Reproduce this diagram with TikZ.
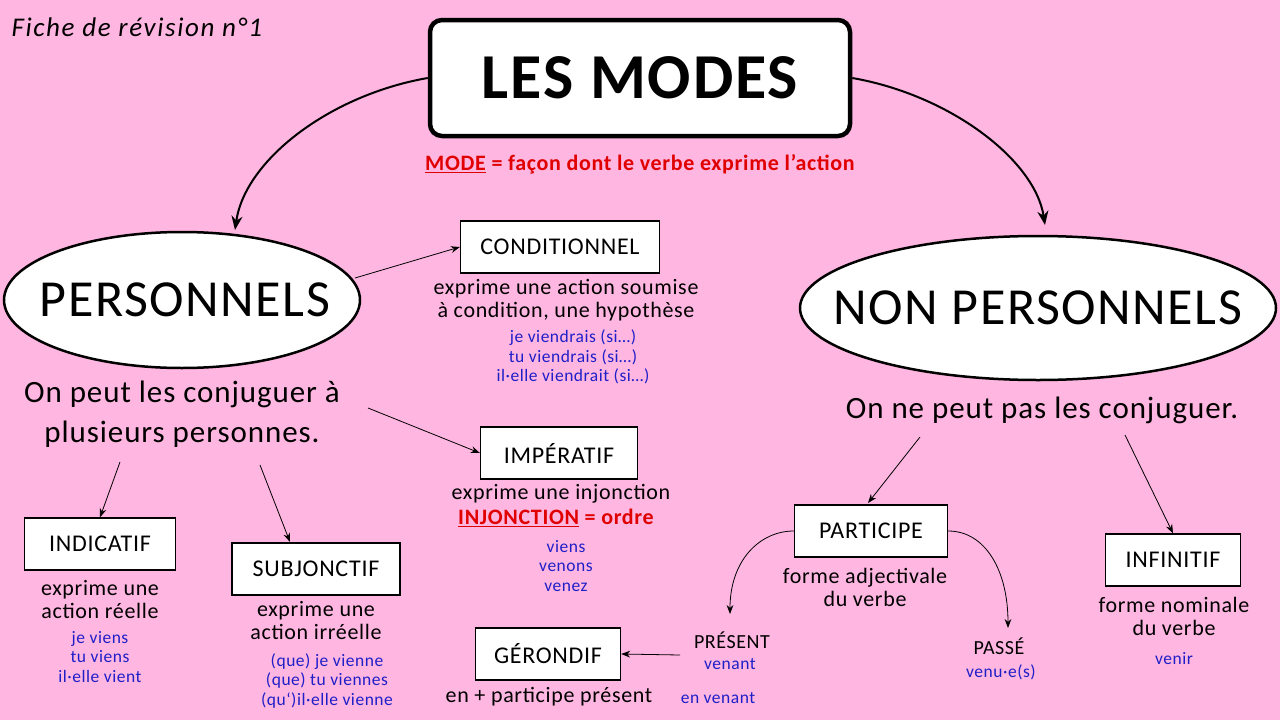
\documentclass[tikz,border=0pt]{standalone}
\usepackage{fontspec}
\setmainfont{Carlito}[LetterSpace=3]
\usetikzlibrary{arrows.meta}
\definecolor{bg}{HTML}{FFB6E1}
\definecolor{bl}{HTML}{1F1FC8}
\definecolor{rd}{HTML}{E00000}
\begin{document}
\begin{tikzpicture}[x=1pt,y=-1pt,
 box/.style={draw,fill=white,line width=1.3pt,minimum height=52pt,font=\fontsize{24}{26}\selectfont,inner xsep=10pt},
 ell/.style={draw,fill=white,line width=2.5pt},
 arr/.style={-{Stealth[length=9pt]},line width=0.8pt},
 big/.style={-{Stealth[length=14pt,width=11pt]},line width=2pt},
 txt/.style={font=\fontsize{22}{23}\selectfont,align=center},
 ex/.style={font=\fontsize{17.5}{19.5}\selectfont,text=bl,align=center},
 lab/.style={font=\fontsize{20}{22}\selectfont}]
\fill[bg] (0,0) rectangle (1280,720);
\node[anchor=west,font=\fontsize{27}{28}\selectfont\itshape\addfontfeature{LetterSpace=6}] (fiche) at (8,27) {Fiche de révision n°1};
\node[draw,fill=white,line width=4.5pt,rounded corners=12pt,minimum width=420pt,minimum height=116pt,font=\fontsize{64}{66}\selectfont\bfseries] (modes) at (640,78) {LES MODES};
\node[font=\fontsize{22}{22}\selectfont\bfseries,text=rd] (def) at (640,164) {\underline{MODE} = façon dont le verbe exprime l’action};
\draw[ell] (182,300) ellipse (178pt and 68pt);
\node[font=\fontsize{52}{54}\selectfont] (pers) at (185,300) {PERSONNELS};
\draw[ell] (1038,308) ellipse (238pt and 72pt);
\node[font=\fontsize{52}{54}\selectfont] (npers) at (1038,308) {NON PERSONNELS};
\coordinate (pt) at (235,230);
\coordinate (npt) at (1045,225);
\draw[big] (modes.west) .. controls (330,95) and (245,160) .. (pt);
\draw[big] (modes.east) .. controls (950,95) and (1035,160) .. (npt);
\node[font=\fontsize{31}{40}\selectfont,align=center] (pdesc) at (182,414) {On peut les conjuguer à\\plusieurs personnes.};
\node[font=\fontsize{31}{32}\selectfont] (npdesc) at (1042,410) {On ne peut pas les conjuguer.};
% CONDITIONNEL
\node[box,minimum width=199pt] (cond) at (560,247) {CONDITIONNEL};
\node[txt] (condt) at (566,300) {exprime une action soumise\\à condition, une hypothèse};
\node[ex] (conde) at (573,357) {je viendrais (si…)\\tu viendrais (si…)\\il·elle viendrait (si…)};
\coordinate (c1) at (355,278);
\draw[arr] (c1) -- (cond.west);
% IMPERATIF
\node[box,minimum width=157pt] (imp) at (559,453) {IMPÉRATIF};
\node[txt] (impt) at (561,494) {exprime une injonction};
\node[font=\fontsize{22}{22}\selectfont\bfseries,text=rd] (inj) at (556,518) {\underline{INJONCTION} = ordre};
\node[ex] (impe) at (566,566) {viens\\venons\\venez};
\coordinate (c2) at (368,408);
\draw[arr] (c2) -- (imp.west);
% INDICATIF
\node[box,minimum width=151pt] (ind) at (100,544) {INDICATIF};
\node[txt] (indt) at (100,600) {exprime une\\action réelle};
\node[ex] (inde) at (100,657) {je viens\\tu viens\\il·elle vient};
\coordinate (c3) at (120,462);
\draw[arr] (c3) -- (ind.north);
% SUBJONCTIF
\node[box,minimum width=168pt] (sub) at (316,569) {SUBJONCTIF};
\node[txt] (subt) at (316,621) {exprime une\\action irréelle};
\node[ex] (sube) at (327,681) {(que) je vienne\\(que) tu viennes\\(qu‘)il·elle vienne};
\coordinate (c4) at (260,465);
\draw[arr] (c4) -- (290,542);
% PARTICIPE
\node[box,minimum width=153pt] (part) at (871,531) {PARTICIPE};
\node[txt] (partt) at (865,587) {forme adjectivale\\du verbe};
\coordinate (c5) at (920,437);
\draw[arr] (c5) -- (868,503);
% INFINITIF
\node[box,minimum width=135pt] (inf) at (1173,560) {INFINITIF};
\node[txt] (inft) at (1174,616) {forme nominale\\du verbe};
\node[ex] (infe) at (1174,659) {venir};
\coordinate (c6) at (1125,435);
\draw[arr] (c6) -- (inf.north);
% present / passe
\node[lab] (pres) at (732,640) {PRÉSENT};
\node[ex] (prese) at (730,664) {venant};
\node[lab] (pass) at (999,646) {PASSÉ};
\node[ex] (passe) at (1001,672) {venu·e(s)};
\coordinate (p1) at (730,614);
\coordinate (p2) at (1008,628);
\draw[arr] (part.west) .. controls (760,531) and (730,560) .. (p1);
\draw[arr] (part.east) .. controls (985,531) and (1008,570) .. (p2);
% GERONDIF
\node[box,minimum width=145pt] (ger) at (548,654) {GÉRONDIF};
\node[txt] (gert) at (549,697) {en + participe présent};
\node[ex] (gere) at (718,698) {en venant};
\coordinate (g1) at (680,655);
\draw[arr] (g1) -- (ger.east);
\end{tikzpicture}
\end{document}
